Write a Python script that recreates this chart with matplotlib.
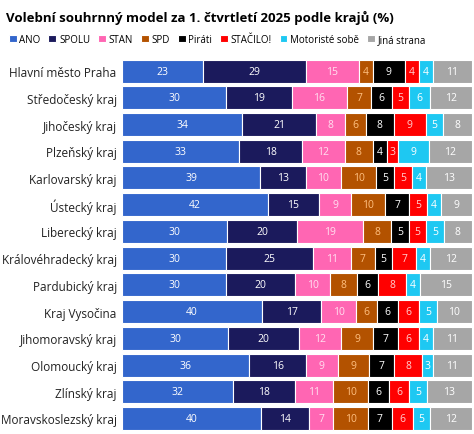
import matplotlib
matplotlib.use("Agg")
import matplotlib.pyplot as plt
import numpy as np

regions = ["Hlavní město Praha","Středočeský kraj","Jihočeský kraj","Plzeňský kraj",
           "Karlovarský kraj","Ústecký kraj","Liberecký kraj","Královéhradecký kraj",
           "Pardubický kraj","Kraj Vysočina","Jihomoravský kraj","Olomoucký kraj",
           "Zlínský kraj","Moravskoslezský kraj"]
parties = ["ANO","SPOLU","STAN","SPD","Piráti","STAČILO!","Motoristé sobě","Jiná strana"]
ano    = [23,30,34,33,39,42,30,30,30,40,30,36,32,40]
spolu  = [29,19,21,18,13,15,20,25,20,17,20,16,18,14]
stan   = [15,16,8,12,10,9,19,11,10,10,12,9,11,7]
spd    = [4,7,6,8,10,10,8,7,8,6,9,9,10,10]
pirati = [9,6,8,4,5,7,5,5,6,6,7,7,6,7]
stacilo= [4,5,9,3,5,5,5,7,8,6,6,8,6,6]
motor  = [4,6,5,9,4,4,5,4,4,5,4,3,5,5]
jina   = [11,12,8,12,13,9,8,12,15,10,11,11,13,12]
series = [ano,spolu,stan,spd,pirati,stacilo,motor,jina]
colors = ["#3366CC","#1B1A5C","#FF66B3","#B35200","#000000","#FF0000","#1EC8F2","#A6A6A6"]
txtcol = ["white","white","#FFE0F0","#FFC080","white","#FFD0D0","white","white"]

data = np.array(series, dtype=float)
tot = data.sum(axis=0)
norm = data / tot * 100

fig = plt.figure(figsize=(4.74,4.35), dpi=100)
ax = fig.add_axes([0.258, 0.005, 0.737, 0.86])
y = np.arange(len(regions))
left = np.zeros(len(regions))
for i,p in enumerate(parties):
    ax.barh(y, norm[i], left=left, height=0.86, color=colors[i], edgecolor="white", linewidth=0.8, label=p)
    for j in range(len(regions)):
        ax.text(left[j]+norm[i][j]/2, y[j], str(series[i][j]), ha="center", va="center",
                color=txtcol[i], fontsize=7.5, family="Open Sans")
    left += norm[i]
ax.set_xlim(0,100)
ax.set_ylim(len(regions)-0.5,-0.5)
ax.set_yticks(y)
ax.set_yticklabels(regions, fontsize=8.5, family="Open Sans", color="#222222")
ax.tick_params(axis="y", length=0, pad=4)
ax.set_xticks([])
for s in ax.spines.values(): s.set_visible(False)
fig.text(0.012, 0.975, "Volební souhrnný model za 1. čtvrtletí 2025 podle krajů (%)",
         fontsize=9.5, fontweight="bold", family="Open Sans", va="top", ha="left")
fig.legend(loc="upper left", bbox_to_anchor=(0.0, 0.94), ncol=8, frameon=False,
           fontsize=7, handlelength=0.8, handleheight=0.8, columnspacing=0.8, handletextpad=0.3,
           prop={"family":"Open Sans","size":7})
fig.savefig("out.png", dpi=100)
